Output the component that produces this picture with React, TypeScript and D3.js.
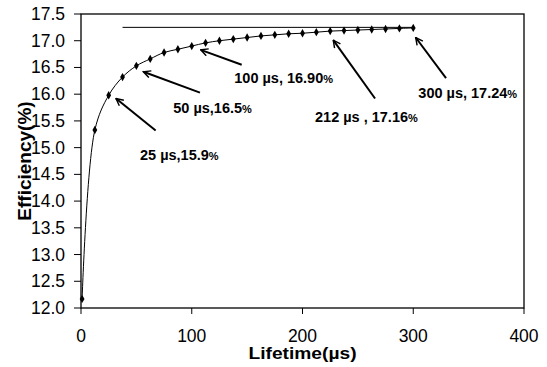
import { useEffect, useRef } from "react";
import * as d3 from "d3";

// lifetime (µs) and simulated efficiency (%)
const lifetimes = [1, 12.5, 25, 37.5, 50, 62.5, 75, 87.5, 100, 112.5, 125, 137.5, 150, 162.5, 175, 187.5, 200, 212.5, 225, 237.5, 250, 262.5, 275, 287.5, 300];
const efficiency = [12.17, 15.33, 15.98, 16.32, 16.53, 16.66, 16.78, 16.84, 16.9, 16.96, 17.0, 17.03, 17.06, 17.09, 17.11, 17.13, 17.14, 17.16, 17.18, 17.19, 17.2, 17.21, 17.22, 17.23, 17.24];

// saturation reference line
const refLineX = [37.5, 300];
const refLineY = 17.25;

const xTicks = [0, 100, 200, 300, 400];
const yTicks = [12.0, 12.5, 13.0, 13.5, 14.0, 14.5, 15.0, 15.5, 16.0, 16.5, 17.0, 17.5];

// annotations: label, arrow head, arrow tail, label position (data units)
const noteLabels = ["25 µs,15.9", "50 µs,16.5", "100 µs, 16.90", "212 µs , 17.16", "300 µs, 17.24"];
const noteHeads = [[31.6, 15.92], [56.3, 16.42], [108.1, 16.83], [227.8, 17.01], [302.2, 17.06]];
const noteTails = [[67.4, 15.32], [107.4, 16.03], [145.1, 16.55], [265.5, 15.92], [329.6, 16.3]];
const notePos = [[53.3, 14.86], [83.3, 15.75], [138.4, 16.3], [211.3, 15.58], [304.6, 16.03]];

const FONT = "'Liberation Sans', Arial, sans-serif";

export default function App() {
  const svgRef = useRef<SVGSVGElement>(null);

  useEffect(() => {
    if (!svgRef.current) return;
    const width = 547;
    const height = 367;
    const margin = { top: 14, right: 23, bottom: 59, left: 81 };

    const svg = d3.select(svgRef.current);
    svg.selectAll("*").remove();

    const x = d3.scaleLinear().domain([0, 400]).range([margin.left, width - margin.right]);
    const y = d3.scaleLinear().domain([12, 17.5]).range([height - margin.bottom, margin.top]);

    svg.append("defs").append("marker")
      .attr("id", "arrow")
      .attr("viewBox", "0 0 10 10")
      .attr("refX", 9)
      .attr("refY", 5)
      .attr("markerWidth", 4.5)
      .attr("markerHeight", 4.5)
      .attr("markerUnits", "strokeWidth")
      .attr("orient", "auto")
      .append("path")
      .attr("d", "M1,1 L9,5 L1,9")
      .attr("fill", "none")
      .attr("stroke", "#000")
      .attr("stroke-width", 1.6);

    // plot frame
    svg.append("rect")
      .attr("x", x(0))
      .attr("y", y(17.5))
      .attr("width", x(400) - x(0))
      .attr("height", y(12) - y(17.5))
      .attr("fill", "none")
      .attr("stroke", "#000")
      .attr("stroke-width", 1.3);

    // y axis ticks + labels
    const yg = svg.append("g");
    yg.selectAll("line").data(yTicks).join("line")
      .attr("x1", x(0) - 7).attr("x2", x(0))
      .attr("y1", d => y(d)).attr("y2", d => y(d))
      .attr("stroke", "#000").attr("stroke-width", 1);
    yg.selectAll("text").data(yTicks).join("text")
      .attr("x", x(0) - 16)
      .attr("y", d => y(d) + 6)
      .attr("text-anchor", "end")
      .attr("font-family", FONT)
      .attr("font-size", 17.5)
      .text(d => d3.format(".1f")(d));

    // x axis ticks + labels
    const xg = svg.append("g");
    xg.selectAll("line").data(xTicks).join("line")
      .attr("x1", d => x(d)).attr("x2", d => x(d))
      .attr("y1", y(12)).attr("y2", y(12) + 6)
      .attr("stroke", "#000").attr("stroke-width", 1);
    xg.selectAll("text").data(xTicks).join("text")
      .attr("x", d => x(d))
      .attr("y", y(12) + 34)
      .attr("text-anchor", "middle")
      .attr("font-family", FONT)
      .attr("font-size", 17.5)
      .text(d => String(d));

    // axis titles
    svg.append("text")
      .attr("transform", `translate(${x(200)},${y(12) + 51}) scale(1.2,1)`)
      .attr("text-anchor", "middle")
      .attr("font-family", FONT)
      .attr("font-size", 16)
      .attr("font-weight", "bold")
      .text("Lifetime(µs)");

    svg.append("text")
      .attr("transform", `translate(31,${y(14.75)}) rotate(-90)`)
      .attr("text-anchor", "middle")
      .attr("font-family", FONT)
      .attr("font-size", 19)
      .attr("font-weight", "bold")
      .text("Efficiency(%)");

    // reference line
    svg.append("line")
      .attr("x1", x(refLineX[0])).attr("x2", x(refLineX[1]))
      .attr("y1", y(refLineY)).attr("y2", y(refLineY))
      .attr("stroke", "#000").attr("stroke-width", 1);

    // efficiency curve
    const pts = lifetimes.map((t, i) => [t, efficiency[i]] as [number, number]);
    const line = d3.line<[number, number]>()
      .x(d => x(d[0]))
      .y(d => y(d[1]))
      .curve(d3.curveCatmullRom.alpha(0.5));
    svg.append("path")
      .datum(pts)
      .attr("d", line)
      .attr("fill", "none")
      .attr("stroke", "#000")
      .attr("stroke-width", 1);

    svg.append("g").selectAll("path").data(pts).join("path")
      .attr("transform", d => `translate(${x(d[0])},${y(d[1])})`)
      .attr("d", d3.symbol(d3.symbolDiamond, 20)())
      .attr("fill", "#000");

    // annotations
    const notes = svg.append("g");
    noteLabels.forEach((label, i) => {
      notes.append("line")
        .attr("x1", x(noteTails[i][0])).attr("y1", y(noteTails[i][1]))
        .attr("x2", x(noteHeads[i][0])).attr("y2", y(noteHeads[i][1]))
        .attr("stroke", "#000")
        .attr("stroke-width", 2)
        .attr("marker-end", "url(#arrow)");
      const t = notes.append("text")
        .attr("x", x(notePos[i][0]))
        .attr("y", y(notePos[i][1]) + 5)
        .attr("font-family", FONT)
        .attr("font-size", 14.5)
        .attr("font-weight", "bold");
      t.append("tspan").text(label);
      t.append("tspan").attr("font-size", 11).text("%");
    });
  }, []);

  return (
    <svg
      ref={svgRef}
      width={547}
      height={367}
      style={{ position: "absolute", left: 0, top: 0, background: "#fff" }}
    />
  );
}
